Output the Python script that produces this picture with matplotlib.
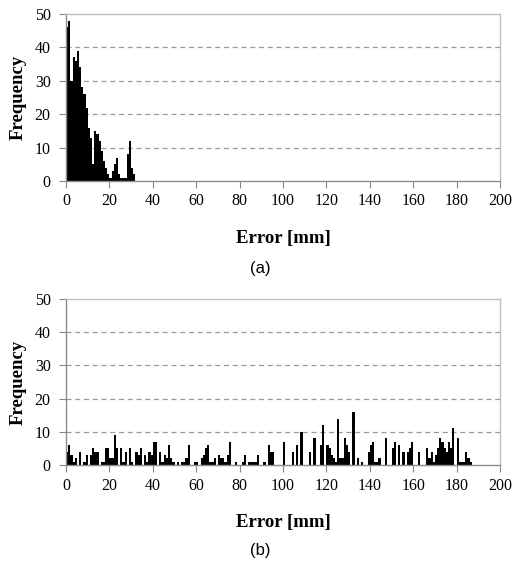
import matplotlib
matplotlib.use("Agg")
import matplotlib.pyplot as plt
import numpy as np

# ---- data (1 mm bins) ----
freq_a = [46, 48, 30, 37, 36, 39, 34, 28, 26, 22,
          16, 13, 5, 15, 14, 12, 9, 6, 4, 2,
          1, 3, 5, 7, 2, 1, 1, 1, 8, 12,
          4, 2]
freq_b = [4, 6, 3, 1, 2, 0, 4, 0, 1, 3,
          0, 3, 5, 4, 4, 0, 1, 1, 5, 5,
          2, 2, 9, 5, 0, 5, 1, 4, 0, 5,
          1, 0, 4, 3, 5, 0, 3, 1, 4, 3,
          7, 7, 0, 4, 1, 3, 2, 6, 2, 1,
          0, 1, 0, 1, 1, 2, 6, 0, 0, 1,
          1, 0, 2, 3, 5, 6, 1, 1, 2, 0,
          3, 2, 2, 1, 3, 7, 0, 0, 1, 0,
          0, 1, 3, 0, 1, 1, 1, 1, 3, 0,
          0, 1, 0, 6, 4, 4, 0, 0, 0, 0,
          7, 0, 0, 0, 4, 0, 6, 0, 10, 0,
          0, 0, 4, 0, 8, 0, 0, 6, 12, 0,
          6, 5, 3, 2, 1, 14, 2, 2, 8, 6,
          4, 0, 16, 0, 2, 0, 1, 0, 0, 4,
          6, 7, 1, 1, 2, 0, 0, 8, 0, 0,
          5, 7, 0, 6, 0, 4, 0, 4, 5, 7,
          0, 0, 4, 0, 0, 0, 5, 2, 4, 1,
          3, 5, 8, 7, 5, 4, 7, 5, 11, 0,
          8, 1, 1, 1, 4, 2, 1]
x_ticks = [0, 20, 40, 60, 80, 100, 120, 140, 160, 180, 200]
y_ticks = [0, 10, 20, 30, 40, 50]
x_label = "Error [mm]"
y_label = "Frequency"
panel_labels = ["(a)", "(b)"]

W, H = 516, 567
fig = plt.figure(figsize=(W / 100, H / 100), dpi=100)

serif = ["Liberation Serif", "DejaVu Serif"]
sans = ["Liberation Sans", "DejaVu Sans"]

def make_axes(rect, data, panel, panel_y):
    ax = fig.add_axes(rect)
    bins = np.arange(len(data))
    ax.bar(bins, data, width=1.0, align="edge", color="black", edgecolor="none")
    ax.set_xlim(0, 200)
    ax.set_ylim(0, 50)
    ax.set_xticks(x_ticks)
    ax.set_yticks(y_ticks)
    ax.set_xticklabels([str(t) for t in x_ticks], family=serif, fontsize=11.5)
    ax.set_yticklabels([str(t) for t in y_ticks], family=serif, fontsize=11.5)
    ax.tick_params(axis="both", direction="out", length=5, width=0.8,
                   color="#888888", pad=4)
    ax.tick_params(axis="y", pad=6)
    for t in [10, 20, 30, 40]:
        ax.axhline(t, color="#999999", lw=0.9, ls=(0, (4, 3)), zorder=0)
    for s in ["left", "bottom"]:
        ax.spines[s].set_color("#8c8c8c")
        ax.spines[s].set_linewidth(1.0)
    for s in ["top", "right"]:
        ax.spines[s].set_color("#bfbfbf")
        ax.spines[s].set_linewidth(1.0)
    ax.set_xlabel(x_label, family=serif, fontsize=13.5, fontweight="bold", labelpad=15)
    ax.set_ylabel(y_label, family=serif, fontsize=13.5, fontweight="bold", labelpad=6)
    fig.text(260 / W, 1 - panel_y / H, panel, family=sans, fontsize=12,
             ha="center", va="center")
    return ax

make_axes([66 / W, 1 - 181 / H, 434 / W, 167 / H], freq_a, panel_labels[0], 268)
make_axes([66 / W, 1 - 465 / H, 434 / W, 166 / H], freq_b, panel_labels[1], 551)

fig.savefig("out.png", dpi=100)
